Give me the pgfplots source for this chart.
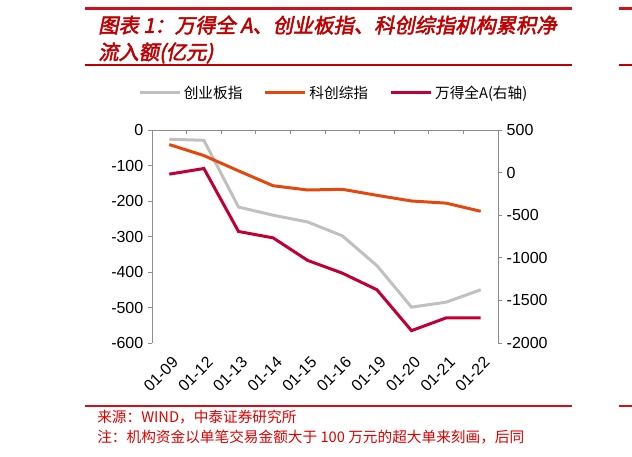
\documentclass[border=0pt]{standalone}
\usepackage{fontspec}
\setmainfont{Liberation Sans}
\newfontfamily\cjk{Noto Sans CJK SC}
\newfontfamily\cjktitle[FakeSlant=0.2,FakeBold=2.5]{Noto Sans CJK SC}
\usepackage{pgfplots}
\usepackage{pgfplotstable}
\pgfplotsset{compat=1.18}

\definecolor{cybgray}{HTML}{C0C0C0}
\definecolor{kcorange}{HTML}{E5480F}
\definecolor{wdred}{HTML}{C00033}
\definecolor{titlered}{HTML}{C00000}
\definecolor{notered}{HTML}{E00000}
\definecolor{rulered}{HTML}{D0101A}
\definecolor{axisgray}{HTML}{8C8C8C}

% left axis: 创业板指, 科创综指 (亿元)
\pgfplotstableread{
idx cyb kc
0 -26 -41
1 -29 -72
2 -217 -115
3 -240 -157
4 -259 -169
5 -298 -167
6 -382 -184
7 -499 -200
8 -485 -206
9 -450 -229
}\leftdata

% right axis: 万得全A (亿元)
\pgfplotstableread{
idx wd
0 -18
1 48
2 -691
3 -766
4 -1031
5 -1180
6 -1375
7 -1855
8 -1705
9 -1705
}\rightdata

\pgfplotsset{
  box/.style={
    at={(114pt,85.5pt)}, anchor=south west,
    width=259.5pt, height=159.75pt, scale only axis,
    xmin=-0.5, xmax=9.5,
  },
  lbl/.style={font=\fontsize{12}{14}\selectfont},
}

\begin{document}
\begin{tikzpicture}
\path[use as bounding box] (0,0) rectangle (474pt,342.75pt);

% header and footer rules
\draw[rulered, line width=2.25pt] (63.75pt,336pt) -- (429pt,336pt);
\draw[rulered, line width=2.25pt] (464.25pt,336pt) -- (474pt,336pt);
\draw[titlered, line width=0.8pt] (63.75pt,294pt) -- (429pt,294pt);
\draw[titlered, line width=0.8pt] (464.25pt,294pt) -- (474pt,294pt);
\draw[rulered, line width=1pt] (63.75pt,38.25pt) -- (429pt,38.25pt);
\draw[rulered, line width=1pt] (464.25pt,38.25pt) -- (474pt,38.25pt);

\node[anchor=west, inner sep=0pt, text=titlered, font=\cjktitle\fontsize{15.2}{18}\selectfont]
  at (73.5pt,324pt) {图表 1：万得全 A、创业板指、科创综指机构累积净};
\node[anchor=west, inner sep=0pt, text=titlered, font=\cjktitle\fontsize{15.2}{18}\selectfont]
  at (73.5pt,303pt) {流入额(亿元)};

\node[anchor=west, inner sep=0pt, text=notered, font=\cjk\fontsize{11}{13}\selectfont]
  at (72.75pt,30pt) {来源：WIND，中泰证券研究所};
\node[anchor=west, inner sep=0pt, text=notered, font=\cjk\fontsize{11}{13}\selectfont]
  at (72.75pt,15pt) {注：机构资金以单笔交易金额大于 100 万元的超大单来刻画，后同};

% left axis
\begin{axis}[
  box,
  ymin=-600, ymax=0,
  axis y line*=left, axis x line*=bottom,
  x axis line style={draw=none},
  y axis line style={draw=axisgray, line width=0.6pt},
  ytick={-600,-500,...,0},
  xtick={0,...,9},
  xticklabels={01-09,01-12,01-13,01-14,01-15,01-16,01-19,01-20,01-21,01-22},
  x tick style={draw=none},
  y tick style={draw=axisgray, line width=0.6pt},
  tick align=outside, major tick length=3pt,
  x tick label style={font=\fontsize{12}{14}\selectfont, rotate=45, anchor=east, yshift=-10pt},
  y tick label style={lbl},
  /pgf/number format/assume math mode=true,
  /pgf/number format/1000 sep={},
  clip=false,
  legend columns=3,
  legend style={draw=none, fill=none, at={(0.526,1.174)}, anchor=center,
    font=\cjk\fontsize{11}{13}\selectfont,
    /tikz/every even column/.append style={column sep=14pt}},
  legend image code/.code={\draw[#1] (0pt,0pt) -- (30pt,0pt);},
]
\addplot[cybgray, line width=2.25pt] table[x=idx, y=cyb] {\leftdata};
\addlegendentry{创业板指}
\addplot[kcorange, line width=2.25pt] table[x=idx, y=kc] {\leftdata};
\addlegendentry{科创综指}
\addlegendimage{wdred, line width=2.25pt}
\addlegendentry{万得全A(右轴)}
\end{axis}

% right axis
\begin{axis}[
  box,
  ymin=-2000, ymax=500,
  axis y line*=right, axis x line=none,
  y axis line style={draw=axisgray, line width=0.6pt},
  ytick={-2000,-1500,...,500},
  y tick style={draw=axisgray, line width=0.6pt},
  tick align=outside, major tick length=3pt,
  y tick label style={lbl},
  /pgf/number format/assume math mode=true,
  /pgf/number format/1000 sep={},
  clip=false,
]
\addplot[wdred, line width=2.25pt] table[x=idx, y=wd] {\rightdata};
\end{axis}

% top axis line with category ticks
\begin{axis}[
  box,
  ymin=0, ymax=1,
  axis x line*=top, axis y line=none,
  x axis line style={draw=axisgray, line width=0.6pt},
  xtick={-0.5,0.5,...,9.5}, xticklabels={},
  x tick style={draw=axisgray, line width=0.6pt},
  tick align=inside, major tick length=3pt,
]
\end{axis}
\end{tikzpicture}
\end{document}
